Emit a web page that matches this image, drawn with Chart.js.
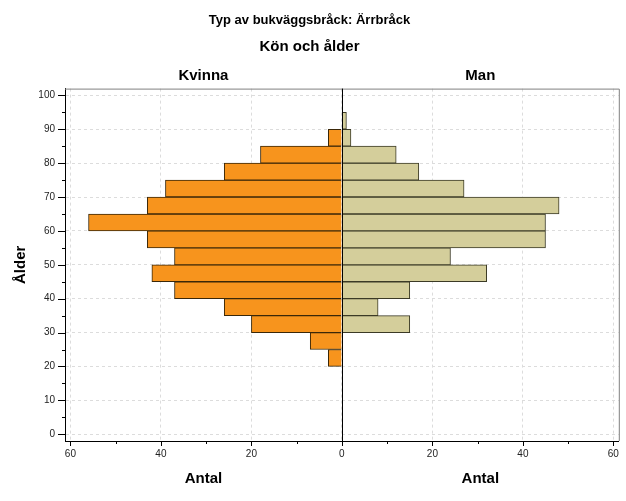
<!DOCTYPE html>
<html>
<head>
<meta charset="utf-8">
<script src="https://cdn.jsdelivr.net/npm/chart.js@4.4.1/dist/chart.umd.min.js"></script>
<style>
    html, body { margin: 0; padding: 0; background: #ffffff; }
    #wrap { width: 626px; height: 501px; position: relative; }
</style>
</head>
<body>
<div id="wrap"><canvas id="pyramidChart"></canvas></div>
<script>
// Age bins (lower edge of each 5-year class)
const ageBins = [20, 25, 30, 35, 40, 45, 50, 55, 60, 65, 70, 75, 80, 85, 90];
const kvinnaCounts = [3, 7, 20, 26, 37, 42, 37, 43, 56, 43, 39, 26, 18, 3, 0];
const manCounts = [0, 0, 15, 8, 15, 32, 24, 45, 45, 48, 27, 17, 12, 2, 1];
const xTickValues = [-60, -40, -20, 0, 20, 40, 60];
const yTickValues = [0, 10, 20, 30, 40, 50, 60, 70, 80, 90, 100];

const FONT = '"Liberation Sans", Arial, sans-serif';

// Bars sit in the middle of each age class, women to the left
const kvinnaData = ageBins.map((a, i) => ({ x: -kvinnaCounts[i], y: a + 2.5 }));
const manData = ageBins.map((a, i) => ({ x: manCounts[i], y: a + 2.5 }));

// Extra drawing: frame, zero line, tick marks, side headers and axis labels
const pyramidDecor = {
    id: 'pyramidDecor',
    afterDraw(chart) {
        const ctx = chart.ctx;
        const area = chart.chartArea;
        const xs = chart.scales.x;
        const ys = chart.scales.y;
        const zero = xs.getPixelForValue(0);

        ctx.save();
        // grey frame on top and right
        ctx.strokeStyle = '#808080';
        ctx.lineWidth = 1;
        ctx.beginPath();
        ctx.moveTo(area.left, area.top + 0.5);
        ctx.lineTo(area.right + 0.5, area.top + 0.5);
        ctx.lineTo(area.right + 0.5, area.bottom);
        ctx.stroke();

        // solid zero line
        ctx.strokeStyle = '#000000';
        ctx.beginPath();
        ctx.moveTo(Math.round(zero) + 0.5, area.top);
        ctx.lineTo(Math.round(zero) + 0.5, area.bottom);
        ctx.stroke();

        // tick marks, long on labelled values, short between
        ctx.beginPath();
        for (let v = -60; v <= 60; v += 10) {
            const px = Math.round(xs.getPixelForValue(v)) + 0.5;
            const len = (v % 20 === 0) ? 5 : 3;
            ctx.moveTo(px, area.bottom);
            ctx.lineTo(px, area.bottom + len);
        }
        for (let v = 0; v <= 100; v += 5) {
            const py = Math.round(ys.getPixelForValue(v)) + 0.5;
            const len = (v % 10 === 0) ? 7 : 3;
            ctx.moveTo(area.left, py);
            ctx.lineTo(area.left - len, py);
        }
        ctx.stroke();

        // side headers and x titles
        ctx.fillStyle = '#000000';
        ctx.font = 'bold 15px ' + FONT;
        ctx.textAlign = 'center';
        ctx.textBaseline = 'middle';
        const leftMid = (area.left + zero) / 2;
        const rightMid = (zero + area.right) / 2;
        ctx.fillText('Kvinna', leftMid, 76);
        ctx.fillText('Man', rightMid, 76);
        ctx.fillText('Antal', leftMid, 479);
        ctx.fillText('Antal', rightMid, 479);
        ctx.restore();
    }
};

const ctx = document.getElementById('pyramidChart').getContext('2d');
const pyramidChart = new Chart(ctx, {
    type: 'bar',
    data: {
        datasets: [
            {
                label: 'Kvinna',
                data: kvinnaData,
                backgroundColor: '#F7941D',
                borderColor: '#3a2708',
                borderWidth: 1,
                barPercentage: 1,
                categoryPercentage: 1,
                grouped: false
            },
            {
                label: 'Man',
                data: manData,
                backgroundColor: '#D4CE9B',
                borderColor: '#3b3a26',
                borderWidth: 1,
                barPercentage: 1,
                categoryPercentage: 1,
                grouped: false
            }
        ]
    },
    options: {
        indexAxis: 'y',
        responsive: true,
        maintainAspectRatio: false,
        animation: false,
        layout: { padding: { left: 0, right: 7, top: 0, bottom: 0 } },
        plugins: {
            legend: { display: false },
            tooltip: { enabled: false },
            title: {
                display: true,
                text: 'Typ av bukväggsbråck: Ärrbråck',
                color: '#000000',
                font: { family: FONT, size: 13, weight: 'bold' },
                padding: { top: 13, bottom: 9 }
            },
            subtitle: {
                display: true,
                text: 'Kön och ålder',
                color: '#000000',
                font: { family: FONT, size: 15, weight: 'bold' },
                padding: { top: 0, bottom: 33 }
            }
        },
        scales: {
            x: {
                type: 'linear',
                min: -61.2,
                max: 61.2,
                offset: false,
                afterFit: (scale) => { scale.height = 60; },
                afterBuildTicks: (scale) => { scale.ticks = xTickValues.map(v => ({ value: v })); },
                grid: {
                    color: '#dcdcdc',
                    lineWidth: 1,
                    offset: false,
                    drawTicks: false
                },
                border: { display: true, color: '#000000', width: 1, dash: [3, 3] },
                ticks: {
                    padding: 7,
                    color: '#222222',
                    font: { family: FONT, size: 10 },
                    callback: (v) => Math.abs(v)
                }
            },
            y: {
                type: 'linear',
                min: -2,
                max: 102,
                offset: false,
                afterFit: (scale) => { scale.width = 65; },
                afterBuildTicks: (scale) => { scale.ticks = yTickValues.map(v => ({ value: v })); },
                grid: {
                    color: '#dcdcdc',
                    lineWidth: 1,
                    offset: false,
                    drawTicks: false
                },
                border: { display: true, color: '#000000', width: 1, dash: [3, 3] },
                ticks: {
                    padding: 10,
                    color: '#222222',
                    font: { family: FONT, size: 10 }
                },
                title: {
                    display: true,
                    text: 'Ålder',
                    color: '#000000',
                    font: { family: FONT, size: 15, weight: 'bold' },
                    padding: { top: 12, bottom: 0 }
                }
            }
        }
    },
    plugins: [pyramidDecor]
});
</script>
</body>
</html>
